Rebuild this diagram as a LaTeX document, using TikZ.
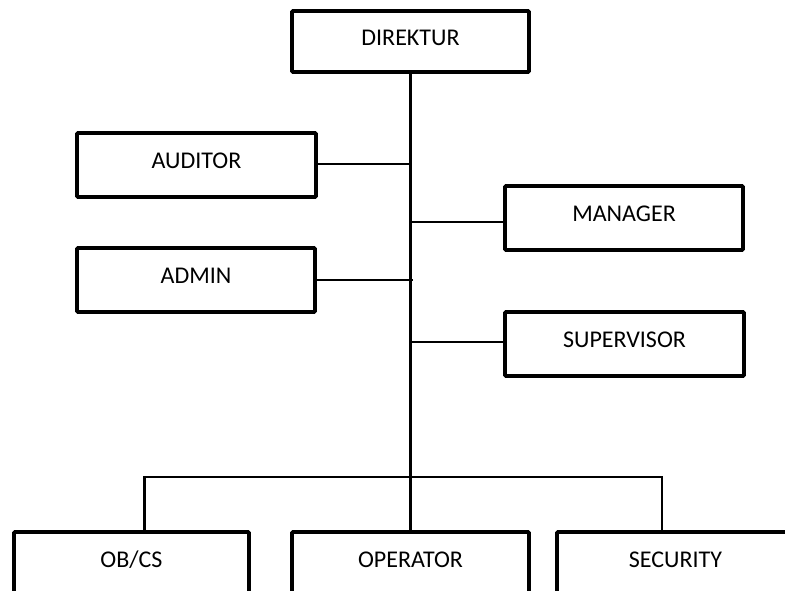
\documentclass[tikz,border=0pt]{standalone}
\usepackage{fontspec}
\setmainfont{Carlito}
\begin{document}
\begin{tikzpicture}[x=0.75pt,y=-0.75pt,
  box/.style={draw=black,line width=2.8pt,rounded corners=0.8pt,fill=white,
    minimum width=237*0.75pt,minimum height=64*0.75pt,inner sep=0pt},
  lbl/.style={font=\fontsize{18}{21}\selectfont,inner sep=0pt},
  conn/.style={draw=black,line width=2.2pt}]
\useasboundingbox (0,0) rectangle (785,590);
% boxes
\node[box,minimum height=61*0.75pt] (dir) at (410.5,41.5) {};
\node[box,minimum width=239*0.75pt] (aud) at (196.5,165) {};
\node[box,minimum width=238*0.75pt] (adm) at (196,280) {};
\node[box,minimum width=238*0.75pt] (man) at (624,218) {};
\node[box,minimum width=239*0.75pt] (sup) at (624.5,344) {};
\node[box,minimum width=235*0.75pt] (obcs) at (131.5,564) {};
\node[box] (op) at (410.5,564) {};
\node[box] (sec) at (675.5,564) {};
% labels
\node[lbl] at ([yshift=2.5pt]dir.center) {DIREKTUR};
\node[lbl] at ([yshift=3pt]aud.center) {AUDITOR};
\node[lbl] at ([yshift=3pt]adm.center) {ADMIN};
\node[lbl] at ([yshift=3pt]man.center) {MANAGER};
\node[lbl] at ([yshift=3pt]sup.center) {SUPERVISOR};
\node[lbl] at ([yshift=3pt]obcs.center) {OB/CS};
\node[lbl] at ([yshift=3pt]op.center) {OPERATOR};
\node[lbl] at ([yshift=3pt]sec.center) {SECURITY};
% connectors
\coordinate (jn) at (410.5,477);
\draw[conn] (dir.south) -- (op.north);
\draw[conn] ([yshift=0.75pt]aud.east) -- ([yshift=0.75pt]aud.east -| jn);
\draw[conn] (adm.east) -- ([xshift=1.5pt]adm.east -| jn);
\draw[conn] ([yshift=-3pt]man.west) -- ([yshift=-3pt]man.west -| jn);
\draw[conn] ([yshift=1.5pt]sup.west) -- ([yshift=1.5pt]sup.west -| jn);
\draw[conn] ([xshift=13*0.75pt]obcs.north) |- (jn) -| ([xshift=-13.5*0.75pt]sec.north);
\end{tikzpicture}
\end{document}
